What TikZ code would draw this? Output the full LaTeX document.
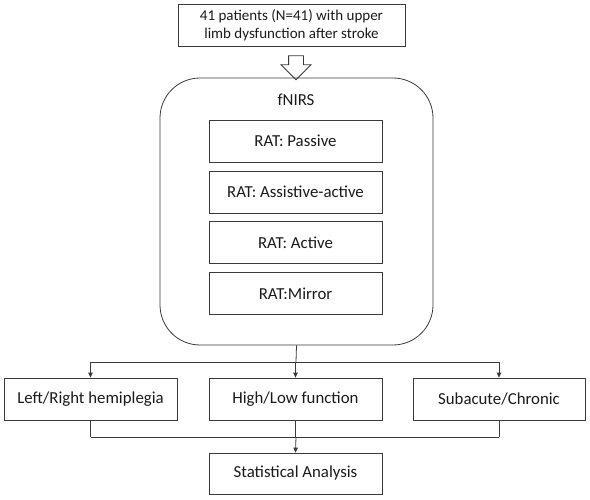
\documentclass[tikz,border=0pt]{standalone}
\usepackage{fontspec}
\setmainfont{Carlito}
\usepackage{tikz}
\usetikzlibrary{positioning,calc,arrows.meta,shapes.arrows}
\definecolor{LineGray}{HTML}{3A3A3A}
\definecolor{TextBlack}{HTML}{1A1A1A}
\tikzset{
  box/.style={draw=LineGray,line width=0.8pt,inner sep=0pt,align=center,
    font=\fontsize{16.8}{19}\selectfont,text=TextBlack},
  ratbox/.style={box,minimum width=173pt,minimum height=42pt},
  grpbox/.style={box,minimum width=173pt,minimum height=42pt},
  bigbox/.style={draw=LineGray,line width=0.8pt,rounded corners=40pt},
  link/.style={draw=LineGray,line width=0.8pt},
  flow/.style={link,-{Triangle[length=5pt,width=4.5pt]}},
  hollow/.style={single arrow,draw=LineGray,line width=0.8pt,fill=white,
    inner sep=7pt,single arrow head extend=7.5pt,single arrow head indent=0pt,
    minimum height=24pt,rotate=-90},
}

\begin{document}
\begin{tikzpicture}[x=1pt,y=-1pt]
\useasboundingbox (0,0) rectangle (590,500);

\node[box,minimum width=227pt,minimum height=42pt,
  font=\fontsize{15}{18.5}\selectfont] (pat) at (291.5,25)
  {41 patients (N=41) with upper\\limb dysfunction after stroke};
\node[hollow] (harr) at (296,64) {};

% fNIRS frame
\node[bigbox,minimum width=273pt,minimum height=267pt] (fn) at (296.5,211.5) {};
\node[box,draw=none] (fnl) at (296,100) {fNIRS};
\node[ratbox] (pas) at (295.5,141) {RAT: Passive};
\node[ratbox] (asa) at (295.5,192) {RAT: Assistive-active};
\node[ratbox] (act) at (295.5,242.5) {RAT: Active};
\node[ratbox] (mir) at (295.5,293.5) {RAT:Mirror};

% subgroups
\node[grpbox] (lr) at (90.5,399) {Left/Right hemiplegia};
\node[grpbox] (hl) at (295.5,399) {High/Low function};
\node[grpbox,minimum width=172pt] (sc) at (499,399) {Subacute/Chronic};
\node[grpbox,minimum height=41pt] (stat) at (295.5,473.5) {Statistical Analysis};

\coordinate (split) at (296,362);
\coordinate (join) at (296,437);
\draw[link] (fn.south) -- (split);
\draw[link] (split -| lr.north) -- (split -| sc.north);
\foreach \n in {lr,hl,sc}
  \draw[flow] (split -| \n.north) -- (\n.north);
\foreach \n in {lr,hl,sc}
  \draw[link] (\n.south) -- (join -| \n.south);
\draw[link] (join -| lr.south) -- (join -| sc.south);
\draw[flow] (join) -- (stat.north);
\end{tikzpicture}
\end{document}
